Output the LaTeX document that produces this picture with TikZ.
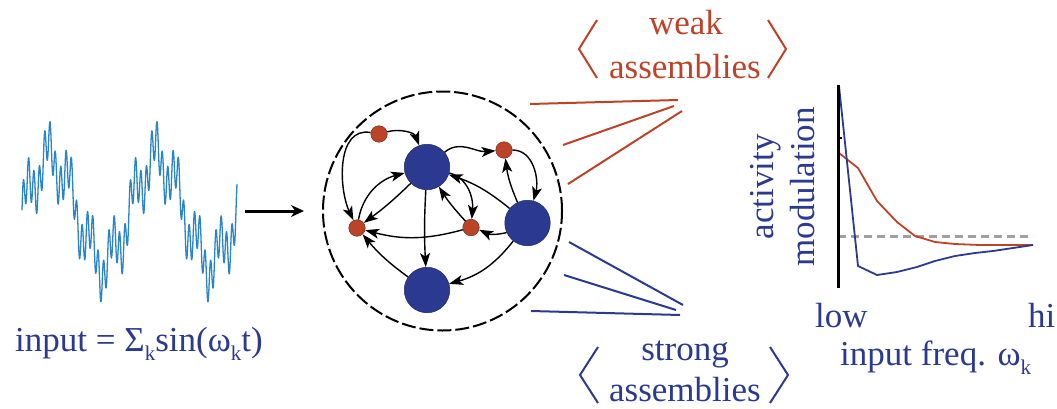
\documentclass[tikz,border=0pt]{standalone}
\usepackage{fontspec}
\setmainfont{Liberation Serif}
\usetikzlibrary{arrows.meta}
\definecolor{navy}{HTML}{2B3990}
\definecolor{rust}{HTML}{BD4328}
\definecolor{wavec}{HTML}{2A84CA}
\definecolor{grayd}{HTML}{A0A0A0}
\newcommand\subk{\raisebox{-0.28em}{\fontsize{21}{21}\selectfont k}}
\begin{document}
\begin{tikzpicture}[x=1pt,y=1pt,
  txt/.style={font=\fontsize{35}{40}\selectfont, inner sep=0pt},
  bigc/.style={circle, fill=navy, draw=navy!70!black, line width=0.5pt, minimum size=45.5pt, inner sep=0pt},
  smallc/.style={circle, fill=rust, draw=rust!60!black, line width=0.5pt, minimum size=16.5pt, inner sep=0pt},
  edge/.style={line width=1.4pt, -{Stealth[length=14pt,width=10pt,inset=3.5pt]}},
  link/.style={line width=2pt},
  brack/.style={line width=2pt, line join=miter},
  ]
\useasboundingbox (0,0) rectangle (1057,408);

% input wave
\draw[wavec, line width=1.3pt, line join=round] plot[domain=22:237, samples=1000]
  (\x, {197 + 52*sin(3.3645*(\x-23.25)) + 20*sin(16.822*(\x-23.25)+30) + 20*sin(67.29*(\x-23.25)+88)});
\node[txt, text=navy, anchor=base west] (inp) at (15,57) {input = Σ\subk sin(ω\subk t)};

% arrow into network
\coordinate (a0) at (245,197);
\coordinate (a1) at (304,197);
\draw[line width=3pt, -{Stealth[length=13pt,width=12pt]}] (a0) -- (a1);

% network boundary
\node[circle, draw, dash pattern=on 14pt off 4pt, line width=2pt, minimum size=239pt, inner sep=0pt] (net) at (442.5,197) {};

% neurons
\node[smallc] (r1) at (379,274) {};
\node[bigc]   (B1) at (427,241) {};
\node[smallc] (r2) at (504,258) {};
\node[bigc]   (B2) at (527.5,185) {};
\node[smallc] (r3) at (357,180) {};
\node[smallc] (r4) at (471,180.5) {};
\node[bigc]   (B3) at (427,118) {};

% connections
\draw[edge] (r1) to[out=15,in=110] (B1);
\draw[edge] (r1) to[out=170,in=115] (r3);
\draw[edge] (r3) to[out=80,in=195] (B1);
\draw[edge] (B1) to[bend left=4] (r3);
\draw[edge] (B1) to[out=40,in=185] (r2);
\draw[edge] (r2) to[out=0,in=75] (B2);
\draw[edge] (B2) to[bend left=8] (r2);
\draw[edge] (B2) to[bend right=10] (B1);
\draw[edge] (B1) to[out=-15,in=85] (r4);
\draw[edge] (r4) to[bend left=5] (B1);
\draw[edge] (B2) to[bend left=20] (r4);
\draw[edge] (r4) to[bend left=15] (r3);
\draw[edge] (B1) to[bend right=3] (B3);
\draw[edge] (B3) to[bend left=7] (r3);
\draw[edge] (B2) to[bend left=18] (B3);

% weak assemblies links
\coordinate (w1a) at (530,304); \coordinate (w1b) at (678,308);
\coordinate (w2a) at (563,263); \coordinate (w2b) at (674,302);
\coordinate (w3a) at (568,224); \coordinate (w3b) at (682,297);
\draw[link, rust] (w1a) -- (w1b);
\draw[link, rust] (w2a) -- (w2b);
\draw[link, rust] (w3a) -- (w3b);
% strong assemblies links
\coordinate (s1a) at (569,166); \coordinate (s1b) at (683,103);
\coordinate (s2a) at (564,133); \coordinate (s2b) at (676,98);
\coordinate (s3a) at (531,97);  \coordinate (s3b) at (680,93);
\draw[link, navy] (s1a) -- (s1b);
\draw[link, navy] (s2a) -- (s2b);
\draw[link, navy] (s3a) -- (s3b);

% weak label
\node[txt, text=rust, anchor=base] (wk1) at (686,373) {weak};
\node[txt, text=rust, anchor=base] (wk2) at (685,330) {assemblies};
\draw[brack, rust] (597,388) -- (579,359) -- (597,330);
\draw[brack, rust] (768,388) -- (786,359) -- (768,330);
% strong label
\node[txt, text=navy, anchor=base] (st1) at (685,48) {strong};
\node[txt, text=navy, anchor=base] (st2) at (685,7) {assemblies};
\draw[brack, navy] (598,61) -- (580,33) -- (598,5);
\draw[brack, navy] (770,61) -- (788,33) -- (770,5);

% plot
\draw[grayd, line width=3pt, dash pattern=on 8pt off 5pt] (838,172) -- (1033,172);
\draw[rust, line width=1.8pt, line join=round] (839,255) -- (858,240) -- (877,207) -- (897,186) -- (915,172) -- (935,166) -- (955,164) -- (980,163) -- (1033,163);
\draw[navy, line width=1.8pt, line join=round] (839,322) -- (858,142) -- (877,133) -- (897,136) -- (917,141) -- (935,147) -- (955,152) -- (975,155) -- (993,157) -- (1013,160) -- (1033,163);
\draw[line width=3pt] (838,323) -- (838,120);
\draw[line width=2pt] (838,270) -- (842,270);

\node[txt, text=navy, rotate=90, anchor=base] (act) at (773,221) {activity};
\node[txt, text=navy, rotate=90, anchor=base] (mod) at (814,221) {modulation};
\node[txt, text=navy, anchor=base west] (low) at (815,81) {low};
\node[txt, text=navy, anchor=base west] (hi) at (1028,81) {hi};
\node[txt, text=navy, anchor=base west] (freq) at (840,43) {input freq. ω\subk};
\end{tikzpicture}
\end{document}
